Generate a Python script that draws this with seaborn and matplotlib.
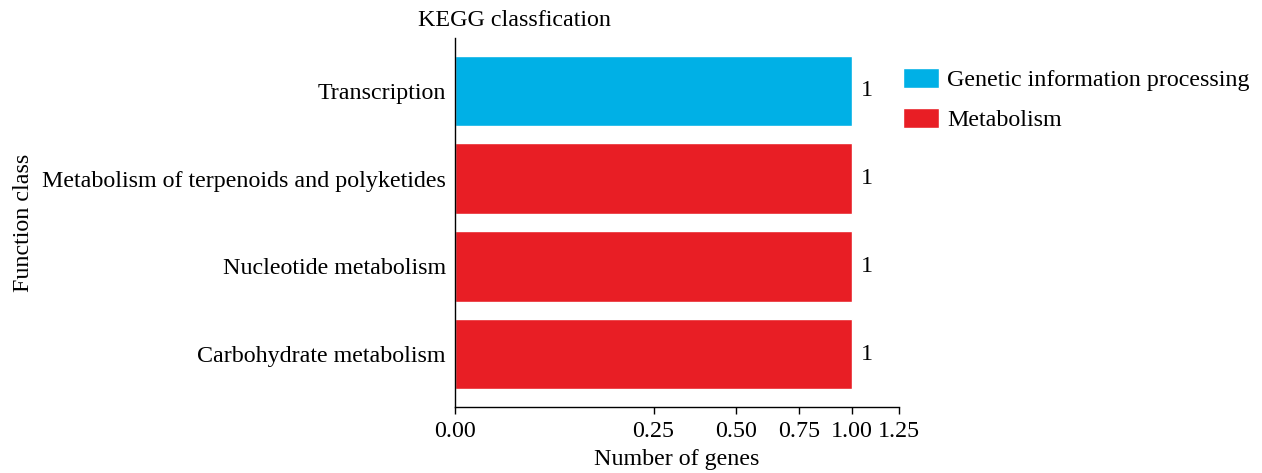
import numpy as np
import pandas as pd
import matplotlib
matplotlib.use("Agg")
import matplotlib.pyplot as plt
import seaborn as sns

categories = ["Transcription", "Metabolism of terpenoids and polyketides",
              "Nucleotide metabolism", "Carbohydrate metabolism"]
counts = [1, 1, 1, 1]
classes = ["Genetic information processing", "Metabolism", "Metabolism", "Metabolism"]
class_order = ["Genetic information processing", "Metabolism"]
palette = {"Genetic information processing": "#00B0E6", "Metabolism": "#E81E25"}
xticks = [0.0, 0.25, 0.5, 0.75, 1.0, 1.25]

df = pd.DataFrame({"category": categories, "count": counts, "cls": classes})

sns.set_style("white")
plt.rcParams["font.family"] = ["Liberation Serif", "DejaVu Serif"]
plt.rcParams["text.color"] = "black"
plt.rcParams["axes.labelcolor"] = "black"
plt.rcParams["xtick.color"] = "black"
plt.rcParams["ytick.color"] = "black"

FS = 17.3

fig = plt.figure(figsize=(12.62, 4.73), dpi=100)
ax = fig.add_axes([455 / 1262, 1 - 407 / 473, (899 - 455) / 1262, (407 - 38) / 473])

sns.barplot(data=df, x="count", y="category", hue="cls", order=categories,
            hue_order=class_order, palette=palette, dodge=False, width=0.8,
            saturation=1, ax=ax, orient="h")

ax.set_xscale("function", functions=(lambda v: np.sqrt(np.clip(v, 0, None)), lambda v: v ** 2))
ax.set_xlim(0, 1.25)
ax.set_ylim(3.6, -0.6)
ax.set_xticks(xticks)
ax.set_xticklabels([f"{t:.2f}" for t in xticks])

for i, v in enumerate(counts):
    ax.annotate(f"{v}", xy=(v, i), xytext=(6.5, 0), textcoords="offset points",
                va="center", ha="left", fontsize=FS, color="black")

for s in ["top", "right"]:
    ax.spines[s].set_visible(False)
for s in ["left", "bottom"]:
    ax.spines[s].set_color("black")
    ax.spines[s].set_linewidth(1.0)

ax.tick_params(axis="x", which="both", bottom=True, length=5, width=1, color="black",
               labelsize=FS, pad=5)
ax.tick_params(axis="y", left=False, labelsize=FS, pad=3)
ax.set_xlabel("Number of genes", fontsize=FS, labelpad=5)
ax.set_ylabel("Function class", fontsize=FS, labelpad=6)

fig.text(418 / 1262, 1 - 20 / 473, "KEGG classfication", fontsize=FS, va="center", ha="left")

leg = ax.legend(loc="upper left", bbox_to_anchor=(1.01, 0.92), frameon=False,
                fontsize=FS, handlelength=1.48, handleheight=0.93, labelspacing=0.7,
                borderaxespad=0.0, borderpad=0.0, handletextpad=0.35)

fig.savefig("out.png", dpi=100)
